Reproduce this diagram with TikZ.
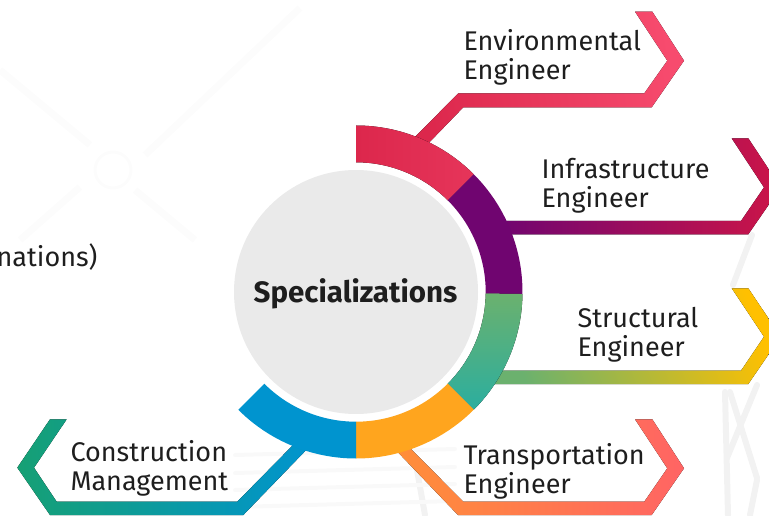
\documentclass[tikz,border=0pt]{standalone}
\usepackage{fontspec}
\usetikzlibrary{calc}
\setmainfont{Fira Sans}
\definecolor{hubgray}{HTML}{EAEAEA}
\definecolor{inktext}{HTML}{1E1E1E}
\definecolor{redA}{HTML}{DC274C}
\definecolor{redB}{HTML}{F74B6E}
\definecolor{redC}{HTML}{E6355A}
\definecolor{purpleA}{HTML}{700570}
\definecolor{crimsonA}{HTML}{CC1548}
\definecolor{greenA}{HTML}{6BB16E}
\definecolor{tealA}{HTML}{2BAE9F}
\definecolor{yellowA}{HTML}{FFC000}
\definecolor{orangeA}{HTML}{FFA51E}
\definecolor{orangeB}{HTML}{FF8F38}
\definecolor{salmonA}{HTML}{FF6464}
\definecolor{blueA}{HTML}{0094CF}
\definecolor{emeraldA}{HTML}{16A074}
\tikzset{
  bandlabel/.style={align=left, anchor=north west, text=inktext, font=\fontsize{27}{29}\selectfont},
  hubdisc/.style={circle, fill=hubgray, minimum size=244pt, inner sep=0pt},
  hubtitle/.style={text=inktext, font=\fontsize{29.5}{32}\selectfont\bfseries},
  faintline/.style={line width=7pt, black!1},
  sketchline/.style={line width=6pt, black!5, line cap=round}
}
\begin{document}
\begin{tikzpicture}[x=1pt, y=1pt]
\def\Ro{166.5}
\def\Ri{129.7}
\useasboundingbox (0,0) rectangle (769,515);

\coordinate (center) at (356,223);

% faint drawing behind everything
\draw[faintline] (0,445) -- (90,370);
\draw[faintline] (300,507) -- (145,360);
\draw[faintline] (135,325) -- (195,275);
\draw[faintline] (20,275) -- (80,328);
\draw[faintline, line width=3pt] (113,345) circle (18);
\foreach \xa/\ya/\xb/\yb in {752/280/733/230, 725/123/728/0, 757/130/727/57, 730/123/757/37, 757/35/750/0, 417/45/425/0} {
  \draw[sketchline] (\xa,\ya) -- (\xb,\yb);
}
\foreach \ya in {8,25,42,60} {
  \draw[sketchline, line width=4pt, black!2.5] (235,\ya) -- (455,\ya+6);
}

% bands, ring goes over their tails
\fill[left color=redA, right color=redB, shading angle=100]
  (408,371) -- (458.3,421.7) -- (644.3,421.7) -- (667.3,454.3) -- (635,503.3) -- (652.3,503.3)
  -- (684,454.3) -- (651.7,407.7) -- (463.3,407.7) -- (421,364) -- cycle;
\fill[left color=purpleA, right color=crimsonA]
  (500,294) -- (741,294) -- (764,327.6) -- (731.7,376.7) -- (748.3,376.7)
  -- (780.7,327.6) -- (748.3,280.7) -- (500,280.7) -- cycle;
\fill[left color=greenA, right color=yellowA, shading angle=110]
  (490,144.3) -- (741,144.3) -- (764,178.3) -- (731.7,226.7) -- (748.3,226.7)
  -- (780.7,178.3) -- (748.3,131) -- (490,131) -- cycle;
\fill[left color=orangeB, middle color=salmonA!70!orangeB, right color=salmonA]
  (391,70) -- (458,0) -- (651.7,0) -- (684,46.7) -- (652.3,95.7) -- (635,95.7)
  -- (667.3,46.7) -- (644.3,13.3) -- (463.3,13.3) -- (404,73) -- cycle;
\fill[left color=emeraldA, right color=blueA]
  (311,70) -- (243.3,0) -- (50,0) -- (17.3,47.3) -- (50,95.7) -- (66.7,95.7)
  -- (34,47.3) -- (56.7,13.3) -- (237.3,13.3) -- (298,75) -- cycle;

% ring pieces
\fill[left color=redA, right color=redC]
  ($(center)+(90:\Ro)$) arc (90:45:\Ro) -- ($(center)+(45:\Ri)$) arc (45:90:\Ri) -- cycle;
\fill[purpleA]
  ($(center)+(45:\Ro)$) arc (45:-0.7:\Ro) -- ($(center)+(-0.7:\Ri)$) arc (-0.7:45:\Ri) -- cycle;
\fill[top color=greenA, bottom color=tealA]
  ($(center)+(-0.7:\Ro)$) arc (-0.7:-45:\Ro) -- ($(center)+(-45:\Ri)$) arc (-45:-0.7:\Ri) -- cycle;
\fill[orangeA]
  ($(center)+(-45:\Ro)$) arc (-45:-90:\Ro) -- ($(center)+(-90:\Ri)$) arc (-90:-45:\Ri) -- cycle;
\fill[blueA]
  ($(center)+(-90:\Ro)$) arc (-90:-135:\Ro) -- ($(center)+(-135:\Ri)$) arc (-135:-90:\Ri) -- cycle;

\node[hubdisc] (hub) at (center) {};
\node[hubtitle] (hubtext) at (355.5,221) {Specializations};

\node[bandlabel] (envlabel) at (460,489) {Environmental\\Engineer};
\node[bandlabel] (infralabel) at (538,360) {Infrastructure\\Engineer};
\node[bandlabel] (structlabel) at (574,211) {Structural\\Engineer};
\node[bandlabel] (translabel) at (460,75) {Transportation\\Engineer};
\node[bandlabel] (conslabel) at (67,78) {Construction\\Management};
\node[bandlabel, anchor=east] (clipped) at (101,258) {nations)};
\end{tikzpicture}
\end{document}
